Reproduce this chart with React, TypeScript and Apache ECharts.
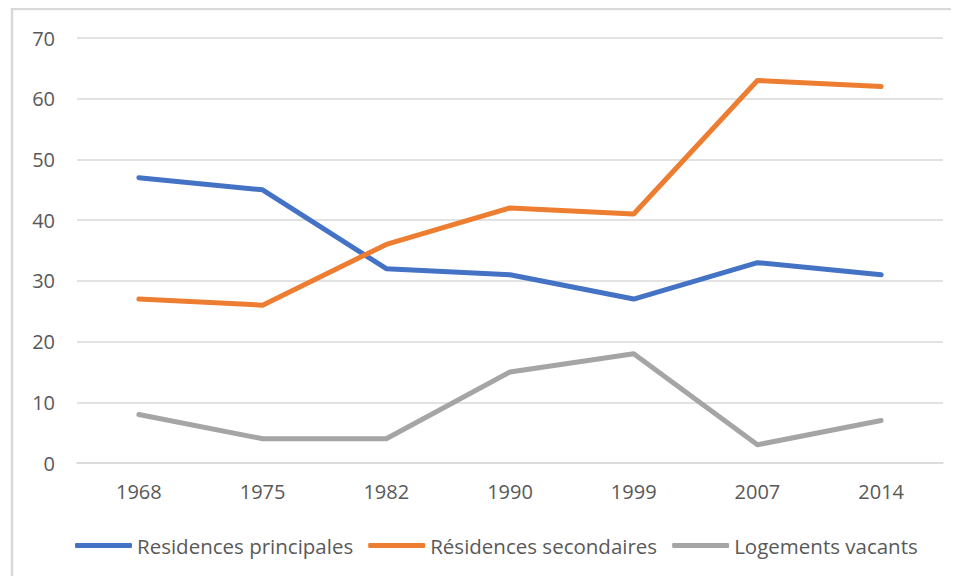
import React, { useEffect, useRef } from "react";
import * as echarts from "echarts";

const categories = ["1968", "1975", "1982", "1990", "1999", "2007", "2014"];
const principales = [47, 45, 32, 31, 27, 33, 31];
const secondaires = [27, 26, 36, 42, 41, 63, 62];
const vacants = [8, 4, 4, 15, 18, 3, 7];
const seriesNames = ["Residences principales", "Résidences secondaires", "Logements vacants"];
const colors = ["#4472C4", "#ED7D31", "#A5A5A5"];

export default function App() {
  const ref = useRef<HTMLDivElement>(null);
  useEffect(() => {
    if (!ref.current) return;
    const chart = echarts.init(ref.current, null, { renderer: "svg" });
    const font = "'Open Sans', sans-serif";
    const data = [principales, secondaires, vacants];
    chart.setOption({
      animation: false,
      color: colors,
      textStyle: { fontFamily: font },
      graphic: [
        {
          type: "rect",
          shape: { x: 12, y: 9, width: 1000, height: 700 },
          style: { fill: "none", stroke: "#d9d9d9", lineWidth: 2.5 },
          silent: true,
        },
      ],
      grid: { left: 77, right: 16, top: 38, bottom: 121 },
      legend: {
        left: 75,
        top: 535,
        padding: 0,
        icon: "roundRect",
        itemWidth: 57,
        itemHeight: 5,
        itemGap: 15,
        textStyle: { fontFamily: font, fontSize: 20.5, color: "#595959" },
        data: seriesNames,
      },
      xAxis: {
        type: "category",
        data: categories,
        axisLine: { show: true, lineStyle: { color: "#d9d9d9", width: 1.5 } },
        axisTick: { show: false },
        axisLabel: { fontFamily: font, fontSize: 20, color: "#595959", margin: 18 },
      },
      yAxis: {
        type: "value",
        min: 0,
        max: 70,
        interval: 10,
        axisLine: { show: false },
        axisTick: { show: false },
        axisLabel: { fontFamily: font, fontSize: 20, color: "#595959", margin: 22 },
        splitLine: { lineStyle: { color: "#d9d9d9", width: 1.5 } },
      },
      series: seriesNames.map((name, i) => ({
        name,
        type: "line",
        data: data[i],
        showSymbol: false,
        symbol: "none",
        lineStyle: { width: 5, color: colors[i], cap: "round", join: "round" },
        itemStyle: { color: colors[i] },
      })),
    });
    return () => chart.dispose();
  }, []);
  return <div ref={ref} style={{ width: 959, height: 584, margin: -8 }} />;
}
